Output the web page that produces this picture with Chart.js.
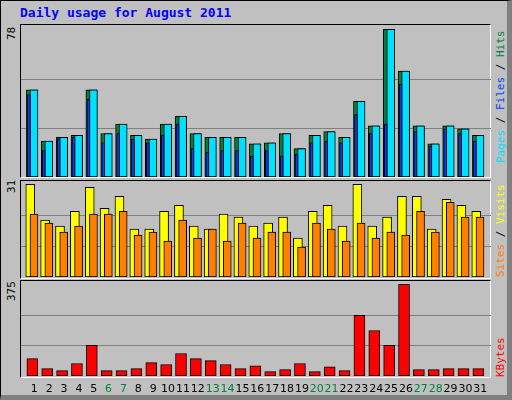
<!DOCTYPE html>
<html><head><meta charset="utf-8">
<script src="https://cdn.jsdelivr.net/npm/chart.js@4"></script>
<style>
body{margin:0;width:512px;height:400px;overflow:hidden;background:#fff}
#outer{position:absolute;left:0;top:0;width:506px;height:394px;background:#c0c0c0;border:1px solid #000;border-right:5px solid #808080;border-bottom:5px solid #808080;box-sizing:content-box}
.panel{position:absolute;left:20px;width:471px;border-top:1px solid #000;border-left:1px solid #000;border-right:1px solid #fff;border-bottom:1px solid #fff;box-sizing:border-box}
canvas{position:absolute}
.rot{position:absolute;transform-origin:0 0;transform:rotate(-90deg);font-family:"DejaVu Sans Mono",monospace;font-size:11px;white-space:nowrap}
#title{position:absolute;left:20px;top:5px;font:bold 13px "DejaVu Sans Mono",monospace;color:#0000ff}
</style></head><body>
<div id="outer"></div>
<div id="title">Daily usage for August 2011</div>
<div class="panel" style="top:24px;height:154px"></div>
<div class="panel" style="top:180px;height:99px"></div>
<div class="panel" style="top:280px;height:98px"></div>
<canvas id="c1" width="470" height="152" style="left:21px;top:25px"></canvas>
<canvas id="c2" width="470" height="96" style="left:21px;top:181px"></canvas>
<canvas id="c3" width="470" height="95" style="left:21px;top:281px"></canvas>
<div class="rot" style="left:5px;top:40px;color:#000">78</div>
<div class="rot" style="left:5px;top:193px;color:#000">31</div>
<div class="rot" style="left:5px;top:301px;color:#000">375</div>
<div class="rot" style="left:494px;top:163px"><span style="color:#00e0ff">Pages</span><span style="color:#000"> / </span><span style="color:#0040ff">Files</span><span style="color:#000"> / </span><span style="color:#008040">Hits</span></div>
<div class="rot" style="left:494px;top:277px"><span style="color:#ff8000">Sites</span><span style="color:#000"> / </span><span style="color:#ffff00">Visits</span></div>
<div class="rot" style="left:494px;top:377px;color:#ff0000">KBytes</div>
<canvas id="lab" width="512" height="20" style="left:0;top:380px"></canvas>
<script>
const days=[1,2,3,4,5,6,7,8,9,10,11,12,13,14,15,16,17,18,19,20,21,22,23,24,25,26,27,28,29,30,31];
const weekend=[6,7,13,14,20,21,27,28];
const hits=[46,19,21,22,46,23,28,22,20,28,32,23,21,21,21,17.5,18,23,15,22,24,21,40,27,78,56,27,17.5,27,25.5,22];
const files=[46,19,21,22,46,23,28,22,20,28,32,23,21,21,21,17.5,18,23,15,22,24,21,40,27,78,56,27,17.5,27,25.5,22];
const pages=[43.5,14,20,21,41,18,23,20,18,22,28,15,13,14,14,11,14,11,12,18,19,18,33,23,28,49,24,16.5,25.5,23,19];
const visits=[31,19,17,22,30,23,27,16,16,22,24,17,16,21,20,17,18,20,13,22,24,17,31,17,20,27,27,16,26,24,22];
const sites=[21,18,15,17,21,21,22,14,15,12,19,13,16,12,18,13,15,15,10,18,16,12,18,13,15,14,22,15,25,20,20];
const kbytes=[71,30,22,51,125,22,22,30,55,47,92,71,63,47,30,42,18,26,51,18,38,22,248,186,125,375,26,26,30,30,30];

function ds(vals,off,w,color){return {data:vals.map((v,i)=>({x:days[i]+off,y:v})),backgroundColor:color,borderColor:'#000',borderWidth:1,barThickness:w,grouped:false,borderSkipped:false};}
const grid={id:'grid',beforeDatasetsDraw(c,a,o){const y=c.scales.y,ctx=c.ctx;ctx.save();ctx.strokeStyle='#808080';ctx.lineWidth=1;[1/3,2/3].forEach(f=>{const p=Math.round(y.getPixelForValue(o.max*f))+0.5;ctx.beginPath();ctx.moveTo(0,p);ctx.lineTo(c.width,p);ctx.stroke();});ctx.restore();}};
function make(id,datasets,ymax,gmax){
 return new Chart(document.getElementById(id),{type:'bar',data:{datasets},plugins:[grid],options:{responsive:false,animation:false,devicePixelRatio:1,layout:{padding:0},
 plugins:{legend:{display:false},tooltip:{enabled:false},grid:{max:gmax}},
 scales:{x:{type:'linear',min:0.107,max:31.72,offset:false,display:false},y:{min:0,max:ymax,display:false}}}});
}
make('c1',[ds(pages,-0.36,3,'#0040ff'),ds(files,-0.02,8,'#00e0ff'),ds(hits,-0.16,11,'#008040')],80.3,78);
make('c2',[ds(sites,-0.02,8,'#ff8000'),ds(visits,-0.27,9,'#ffff00')],32.1,31);
const c3=make('c3',[ds(kbytes,-0.13,11,'#ff0000')],388.5,375);
const lctx=document.getElementById('lab').getContext('2d');
lctx.font='11px "DejaVu Sans", sans-serif';lctx.textAlign='center';lctx.textBaseline='middle';
days.forEach(d=>{lctx.fillStyle=weekend.includes(d)?'#008040':'#000';lctx.fillText(String(d),21+c3.scales.x.getPixelForValue(d),9);});
</script></body></html>
